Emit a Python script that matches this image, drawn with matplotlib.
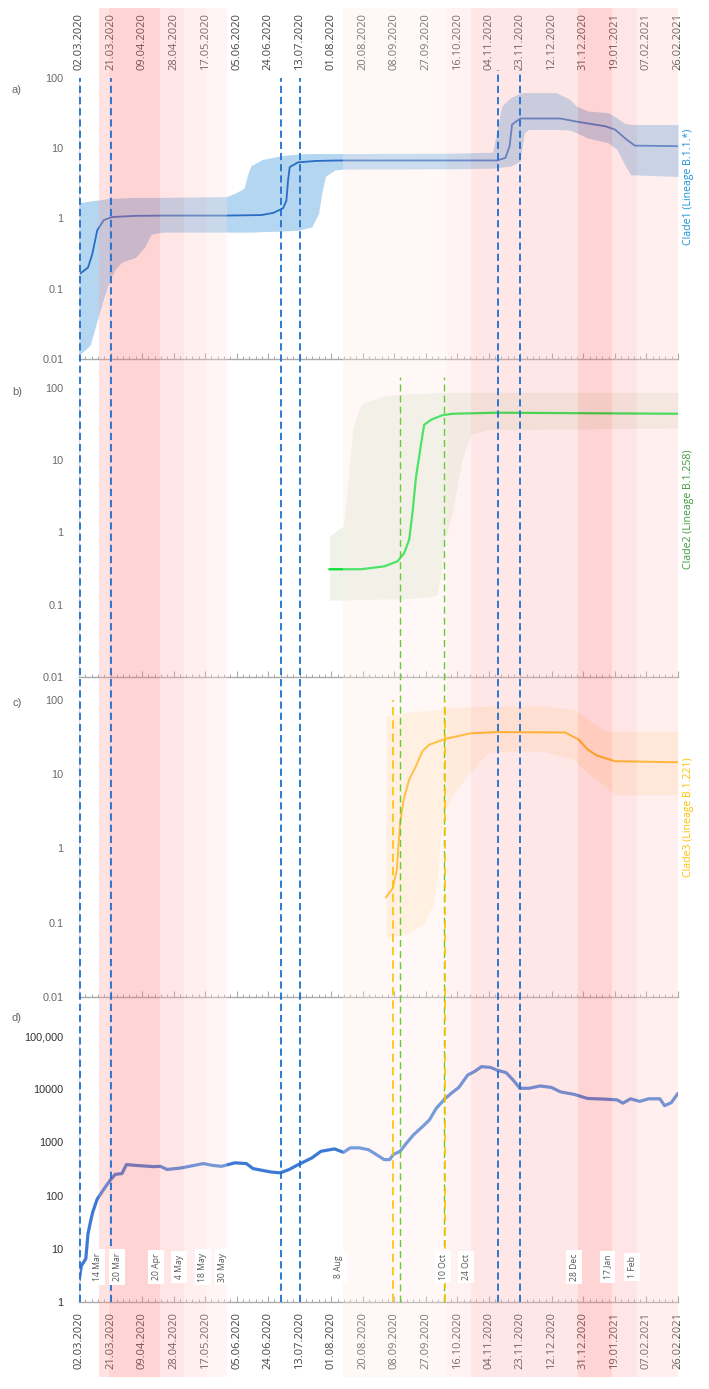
import numpy as np
import matplotlib
matplotlib.use("Agg")
import matplotlib.pyplot as plt
from matplotlib import transforms
from matplotlib.ticker import FixedLocator, NullLocator

# ---------------- data ----------------
START = "2020-03-02"
N_DAYS = 361
tick_labels = ["02.03.2020", "21.03.2020", "09.04.2020", "28.04.2020", "17.05.2020",
               "05.06.2020", "24.06.2020", "13.07.2020", "01.08.2020", "20.08.2020",
               "08.09.2020", "27.09.2020", "16.10.2020", "04.11.2020", "23.11.2020",
               "12.12.2020", "31.12.2020", "19.01.2021", "07.02.2021", "26.02.2021"]

# Clade1 (days since 02.03.2020)
a_days = [0, 5.4, 8, 11, 15, 20, 34, 50, 88, 110, 117, 123, 125, 126, 127, 132, 143, 157,
          252, 257, 259.5, 261, 266, 290, 301, 317, 323, 330, 335, 361]
a_vals = [0.16, 0.2, 0.31, 0.68, 0.95, 1.05, 1.09, 1.1, 1.1, 1.12, 1.2, 1.4, 1.8, 3.5, 5.4,
          6.3, 6.6, 6.7, 6.7, 7.3, 10.7, 21.8, 26.5, 26.5, 23.7, 20.6, 18.5, 13.3, 10.9, 10.7]
a_band_days = [0, 4.1, 6.8, 10.9, 15, 17.7, 21.8, 25.9, 34.1, 39.5, 43.6, 50.4, 88.6, 94,
               99.5, 101.6, 103.5, 110.4, 121.3, 132.2, 140.3, 144.4, 146.3, 148.5, 154,
               159.4, 224.8, 249.3, 252, 254.8, 260.2, 265.7, 268.4, 271.1, 287.5, 295.6,
               299.7, 306.5, 318.8, 324.3, 328.3, 332.4, 361]
a_upper = [1.68, 1.73, 1.78, 1.83, 1.88, 1.94, 1.94, 1.97, 2.0, 2.0, 2.0, 2.0, 2.05, 2.28,
           2.7, 4.2, 5.6, 6.9, 7.8, 8.3, 8.4, 8.4, 8.4, 8.4, 8.4, 8.4, 8.5, 8.8, 18.5, 40,
           52.7, 61, 62, 62, 62, 50, 40, 34, 32, 27, 23, 21.8, 21.8]
a_lower = [0.0115, 0.0137, 0.016, 0.035, 0.075, 0.117, 0.19, 0.24, 0.28, 0.39, 0.6, 0.64,
           0.64, 0.64, 0.64, 0.64, 0.64, 0.65, 0.66, 0.68, 0.76, 1.18, 2.3, 3.96, 4.9, 5.05,
           5.1, 5.2, 5.3, 5.4, 5.6, 6.5, 16.6, 18.5, 18.5, 18.2, 16.6, 14, 12, 9.6, 6.2,
           4.2, 3.96]

# Clade2
b_days = [151, 170, 184, 192, 196, 199, 201, 203, 206, 208, 212.5, 219, 225, 252, 361]
b_vals = [0.31, 0.31, 0.34, 0.40, 0.52, 0.8, 1.9, 5.6, 16, 31, 36.6, 42, 44, 45.5, 44]
b_band_days = [151, 159.4, 162, 165, 170, 184, 194, 212.8, 216, 218.5, 220.7, 225, 230.5,
               236, 246.5, 361]
b_upper = [0.9, 1.24, 5, 28, 60, 78, 82, 86, 87, 87, 87, 87, 87, 87, 87, 87]
b_lower = [0.116, 0.116, 0.116, 0.117, 0.118, 0.12, 0.12, 0.13, 0.14, 0.3, 0.8, 1.9, 9.6,
           22.6, 26.5, 28]

# Clade3
c_days = [185, 189, 191.5, 193.5, 195.6, 199, 203, 207, 211, 221, 236, 252, 293, 301,
          306.5, 312, 323, 361]
c_vals = [0.22, 0.29, 0.51, 2.2, 4.5, 8.5, 12.8, 20.5, 25, 30, 35.6, 37, 36.5, 29.5, 21.6,
          17.9, 15, 14.5]
c_band_days = [185, 197, 208, 213.5, 216, 217.6, 220.4, 224.5, 235.4, 246.3, 257.2, 279,
               298, 306.5, 317.4, 322.9, 361]
c_upper = [61, 68, 72, 74, 75, 76, 77, 79, 81, 82, 83, 84, 75, 55, 38, 38, 38]
c_lower = [0.063, 0.07, 0.096, 0.18, 0.37, 1.3, 3, 5, 10.4, 19.5, 20.5, 20.5, 15.8, 10.4,
           6.9, 5.3, 5.3]

# Cases (panel d)
d_days = [0, 1.4, 4.1, 5.4, 6.8, 8.2, 10.9, 13.6, 16.3, 19.1, 21.8, 25.9, 28.6, 34.1, 45,
          49, 53.1, 61.3, 69.5, 74.9, 80.4, 85.8, 94, 100.8, 104.9, 115.8, 121.3, 126.7,
          132.2, 140.3, 145.8, 154, 159.4, 163.5, 168.9, 174.4, 178.5, 183.9, 187.2, 189.4,
          193.5, 197.5, 201.6, 207.1, 211.2, 215.3, 220.7, 224.8, 228.9, 234.3, 238.4,
          242.5, 248, 252, 257.5, 261.6, 265.7, 271.1, 277.9, 284.7, 290.2, 298.4, 306.5,
          317.4, 324.3, 327.8, 332.4, 337.9, 343.3, 350.1, 352.9, 357, 361]
d_vals = [2.5, 4.8, 6.5, 19, 31, 48, 85, 114, 152, 200, 250, 260, 383, 370, 350, 355, 310,
          330, 370, 400, 370, 355, 413, 400, 322, 277, 268, 310, 383, 510, 680, 755, 650,
          790, 790, 730, 610, 475, 475, 590, 680, 980, 1390, 1990, 2650, 4370, 6700, 8600,
          10800, 18500, 21500, 26500, 25700, 22800, 20400, 14900, 10400, 10400, 11500,
          10800, 8900, 8000, 6700, 6500, 6300, 5460, 6600, 5900, 6600, 6600, 4900, 5600,
          8400]

# Measures periods (band start days) and intensity levels
band_labels = ["14 Mar", "20 Mar", "20 Apr", "4 May", "18 May", "30 May", "8 Aug",
               "10 Oct", "24 Oct", "28 Dec", "17 Jan", "1 Feb"]
band_start = [12, 18, 49, 63, 77, 89, 159, 222, 236, 301, 321, 336]
band_level = [4.1, 6.2, 3.7, 2.2, 1.3, 0, 0.9, 1.8, 3.4, 6.2, 3.7, 2.2]

# dashed marker lines (days)
blue_lines = [0.5, 19, 122, 133, 252.5, 265.5]
green_lines = [193.5, 220]
yellow_lines = [189, 220.5]

# ---------------- figure ----------------
W, H = 709, 1389
fig = plt.figure(figsize=(W / 100, H / 100), dpi=100)
fig.patch.set_facecolor("white")

L, PW = 79, 599


def pos(top, bottom):
    return [L / W, 1 - bottom / H, PW / W, (bottom - top) / H]


def style_axes(ax, ylim, yticks, ylabels, labcolor):
    ax.set_yscale("log")
    ax.set_xlim(0, N_DAYS)
    ax.set_ylim(*ylim)
    ax.patch.set_alpha(0)
    for s in ["top", "right"]:
        ax.spines[s].set_visible(False)
    ax.spines["left"].set_color("#dddddd")
    ax.spines["left"].set_linewidth(0.8)
    ax.spines["bottom"].set_color("#aaaaaa")
    ax.spines["bottom"].set_linewidth(1.0)
    ax.xaxis.set_major_locator(FixedLocator(np.arange(0, N_DAYS + 1, 19)))
    ax.xaxis.set_minor_locator(FixedLocator(np.arange(0, N_DAYS + 0.1, 3.8)))
    ax.tick_params(axis="x", which="major", direction="in", length=4, color="#aaaaaa",
                   width=0.8, labelbottom=False)
    ax.tick_params(axis="x", which="minor", direction="in", length=2, color="#aaaaaa",
                   width=0.7)
    ax.yaxis.set_major_locator(FixedLocator(yticks))
    ax.yaxis.set_minor_locator(NullLocator())
    ax.set_yticklabels(ylabels)
    ax.tick_params(axis="y", length=0, pad=11, labelsize=7.8, labelcolor=labcolor)
    for t in ax.get_yticklabels():
        t.set_fontfamily("Liberation Sans")


ax_a = fig.add_axes(pos(78, 359))
ax_b = fig.add_axes(pos(388, 677))
ax_c = fig.add_axes(pos(700, 997))
ax_d = fig.add_axes(pos(1036, 1302))

clade_ticks = [0.01, 0.1, 1, 10, 100]
clade_labels = ["0.01", "0.1", "1", "10", "100"]
for ax in (ax_a, ax_b, ax_c):
    style_axes(ax, (0.01, 100), clade_ticks, clade_labels, "#6a6a6a")
style_axes(ax_d, (1, 1e5), [1, 10, 100, 1000, 10000, 100000],
           ["1", "10", "100", "1000", "10000", "100,000"], "#333333")

# panel a
ax_a.fill_between(a_band_days, a_lower, a_upper, color="#5aa5e0", alpha=0.45, lw=0)
ax_a.plot(a_days, a_vals, color="#2b6cc4", lw=1.3)
# panel b
ax_b.fill_between(b_band_days, b_lower, b_upper, color="#c8d8b8", alpha=0.30, lw=0)
ax_b.plot(b_days, b_vals, color="#00e030", lw=1.6)
# panel c
ax_c.fill_between(c_band_days, c_lower, c_upper, color="#ffd590", alpha=0.28, lw=0)
ax_c.plot(c_days, c_vals, color="#ffae00", lw=1.4)
# panel d
ax_d.plot(d_days, d_vals, color="#3d7ad6", lw=2.3, solid_capstyle="round")

# panel letters
for lab, ypx in [("a)", 90), ("b)", 392), ("c)", 703), ("d)", 1018)]:
    fig.text(17 / W, 1 - ypx / H, lab, ha="center", va="center", fontsize=8,
             color="#666666", family="Liberation Sans")

# clade labels
for txt, col, ypx in [("Clade1 (Lineage B.1.1.*)", "#1a90d8", 187),
                      ("Clade2 (Lineage B.1.258)", "#3c9a3c", 509),
                      ("Clade3 (Lineage B.1.221)", "#ffc000", 817)]:
    fig.text(689 / W, 1 - ypx / H, txt, rotation=90, ha="center", va="center",
             fontsize=7.6, color=col, family="Open Sans")

# date labels top & bottom
blend = transforms.blended_transform_factory(ax_d.transData, fig.transFigure)
for i, lab in enumerate(tick_labels):
    d = i * 19
    fig.text(d, 1 - 70 / H, lab, rotation=90, ha="center", va="bottom", fontsize=8,
             color="#444444", family="Open Sans", transform=blend, zorder=3)
    fig.text(d, 1 - 1312 / H, lab, rotation=90, ha="center", va="top", fontsize=8,
             color="#444444", family="Open Sans", transform=blend, zorder=3)

# overlay: measure bands, dashed lines, labels
OV_TOP, OV_BOT = 8, 1377
ov = fig.add_axes([L / W, 1 - OV_BOT / H, PW / W, (OV_BOT - OV_TOP) / H], zorder=10)
ov.set_xlim(0, N_DAYS)
ov.set_ylim(0, 1)
ov.axis("off")
ov.patch.set_alpha(0)

A = 0.3
ends = band_start[1:] + [N_DAYS]
for s, e, lev in zip(band_start, ends, band_level):
    if lev <= 0:
        continue
    g = 255 - 6.83 * lev
    cg = (255 - (255 - g) / A) / 255
    cb = (255 - (255 - g + 1.5 * (lev < 1.5)) / A) / 255
    ov.axvspan(s, e, ymin=0, ymax=1, color=(1, max(cg, 0), max(cb, 0)), alpha=A, lw=0,
               zorder=1)


def fy(ypx):
    return (OV_BOT - ypx) / (OV_BOT - OV_TOP)


for x in blue_lines:
    top = 70 if x > 240 else 78
    ov.plot([x, x], [fy(1302), fy(top)], color="#1f6fd0", lw=1.3,
            ls=(0, (4, 2.2)), zorder=3)
for x in green_lines:
    ov.plot([x, x], [fy(1302), fy(377)], color="#66cc33", lw=1.0,
            ls=(0, (5, 3)), zorder=3)
for x in yellow_lines:
    ov.plot([x, x], [fy(1302), fy(700)], color="#ffc000", lw=1.2,
            ls=(0, (5, 3)), zorder=3)

for lab, d in zip(band_labels, band_start):
    if lab == "20 Mar":
        xpos = d + 5
    elif lab == "14 Mar":
        xpos = d - 1
    else:
        xpos = d - 2.5
    ov.text(xpos, fy(1267), lab, rotation=90, ha="center", va="center", fontsize=6.2,
            color="#555555", family="Open Sans", zorder=5,
            bbox=dict(boxstyle="square,pad=0.4", fc="white", ec="none"))

fig.savefig("out.png", dpi=100, facecolor="white")
